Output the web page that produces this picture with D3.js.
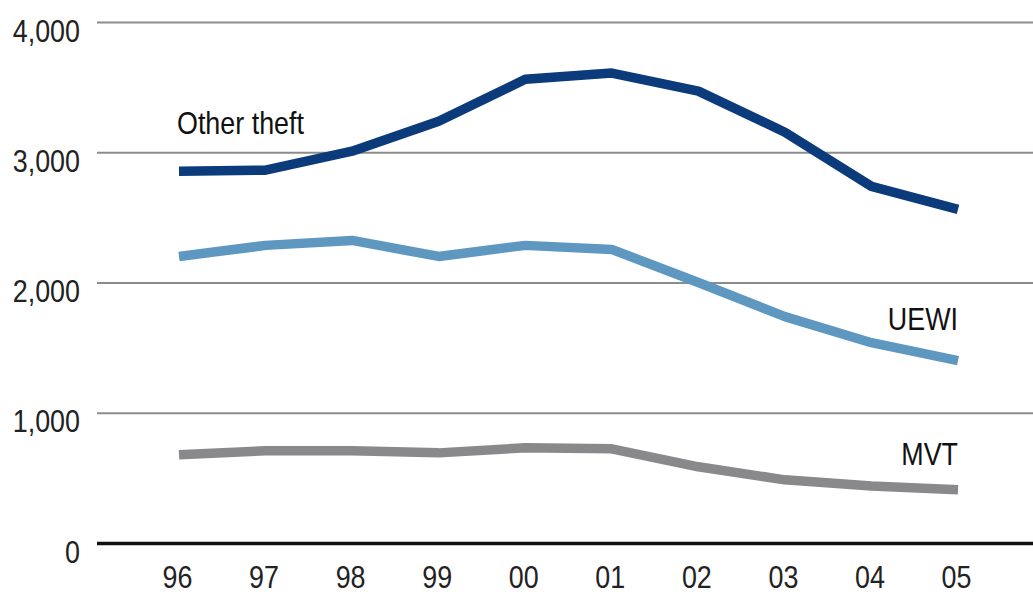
<!DOCTYPE html>
<html>
<head>
<meta charset="utf-8">
<script src="https://cdn.jsdelivr.net/npm/d3@7"></script>
<style>
  body { margin: 0; background: #fff; }
  text { font-family: "Liberation Sans", Arial, Helvetica, sans-serif; }
</style>
</head>
<body>
<div id="chart"></div>
<script>
var svgWidth = 1033;
var svgHeight = 599;

// data
var years = ["96", "97", "98", "99", "00", "01", "02", "03", "04", "05"];
var otherTheft = [2855, 2862, 3008, 3238, 3560, 3608, 3469, 3154, 2738, 2562];
var uewi = [2200, 2285, 2323, 2200, 2285, 2254, 2000, 1738, 1538, 1400];
var mvt = [677, 708, 708, 692, 731, 723, 585, 485, 438, 408];
var yTicks = [0, 1000, 2000, 3000, 4000];

var margin = { top: 22, right: 0, bottom: 56, left: 97 };
var width = svgWidth - margin.left - margin.right;
var height = svgHeight - margin.top - margin.bottom;

// the reference uses a condensed face, so squeeze text horizontally
var squeeze = 0.84;
var fontSize = 32;

var svg = d3.select("#chart")
  .append("svg")
  .attr("width", svgWidth)
  .attr("height", svgHeight);

var chartGroup = svg.append("g")
  .attr("transform", `translate(${margin.left}, ${margin.top})`);

var xScale = d3.scalePoint()
  .domain(years)
  .range([82, 861]);

var yScale = d3.scaleLinear()
  .domain([0, 4000])
  .range([height, 0]);

// gridlines + y labels
var leftAxis = d3.axisLeft(yScale)
  .tickValues(yTicks)
  .tickSize(-width)
  .tickFormat(d3.format(","));

var yAxis = chartGroup.append("g").call(leftAxis);
yAxis.select(".domain").remove();
yAxis.selectAll(".tick line")
  .attr("stroke", "#8c8c8c")
  .attr("stroke-width", 2)
  .attr("x1", 0);
yAxis.selectAll(".tick line").filter(d => d === 0)
  .attr("stroke", "#111")
  .attr("stroke-width", 3.5);
yAxis.selectAll(".tick text")
  .attr("font-size", fontSize)
  .attr("font-family", null)
  .attr("fill", "#222")
  .attr("x", 0)
  .attr("y", 0)
  .attr("dy", null)
  .attr("transform", `translate(-17, 19) scale(${squeeze}, 1)`);

// x labels
var bottomAxis = d3.axisBottom(xScale).tickSize(0);
var xAxis = chartGroup.append("g")
  .attr("transform", `translate(0, ${height})`)
  .call(bottomAxis);
xAxis.select(".domain").remove();
xAxis.selectAll(".tick text")
  .attr("font-size", fontSize)
  .attr("font-family", null)
  .attr("fill", "#222")
  .attr("y", 0)
  .attr("dy", null)
  .attr("transform", `translate(-2, 45) scale(${squeeze}, 1)`);

// lines
var series = [
  { name: "MVT", values: mvt, color: "#89898b" },
  { name: "UEWI", values: uewi, color: "#5e98c1" },
  { name: "Other theft", values: otherTheft, color: "#0b3b7b" }
];

var line = d3.line()
  .x((d, i) => xScale(years[i]))
  .y(d => yScale(d));

chartGroup.selectAll(".series")
  .data(series)
  .enter()
  .append("path")
  .attr("d", d => line(d.values))
  .attr("fill", "none")
  .attr("stroke", d => d.color)
  .attr("stroke-width", 9.5)
  .attr("stroke-linejoin", "round");

// series labels
function label(txt, x, y, anchor) {
  chartGroup.append("text")
    .attr("transform", `translate(${x}, ${y}) scale(${squeeze}, 1)`)
    .attr("text-anchor", anchor)
    .attr("font-size", fontSize)
    .attr("fill", "#111")
    .text(txt);
}

label("Other theft", xScale("96") - 2, yScale(3000) - 18, "start");
label("UEWI", xScale("05"), yScale(2000) + 47, "end");
label("MVT", xScale("05"), yScale(1000) + 52, "end");
</script>
</body>
</html>
